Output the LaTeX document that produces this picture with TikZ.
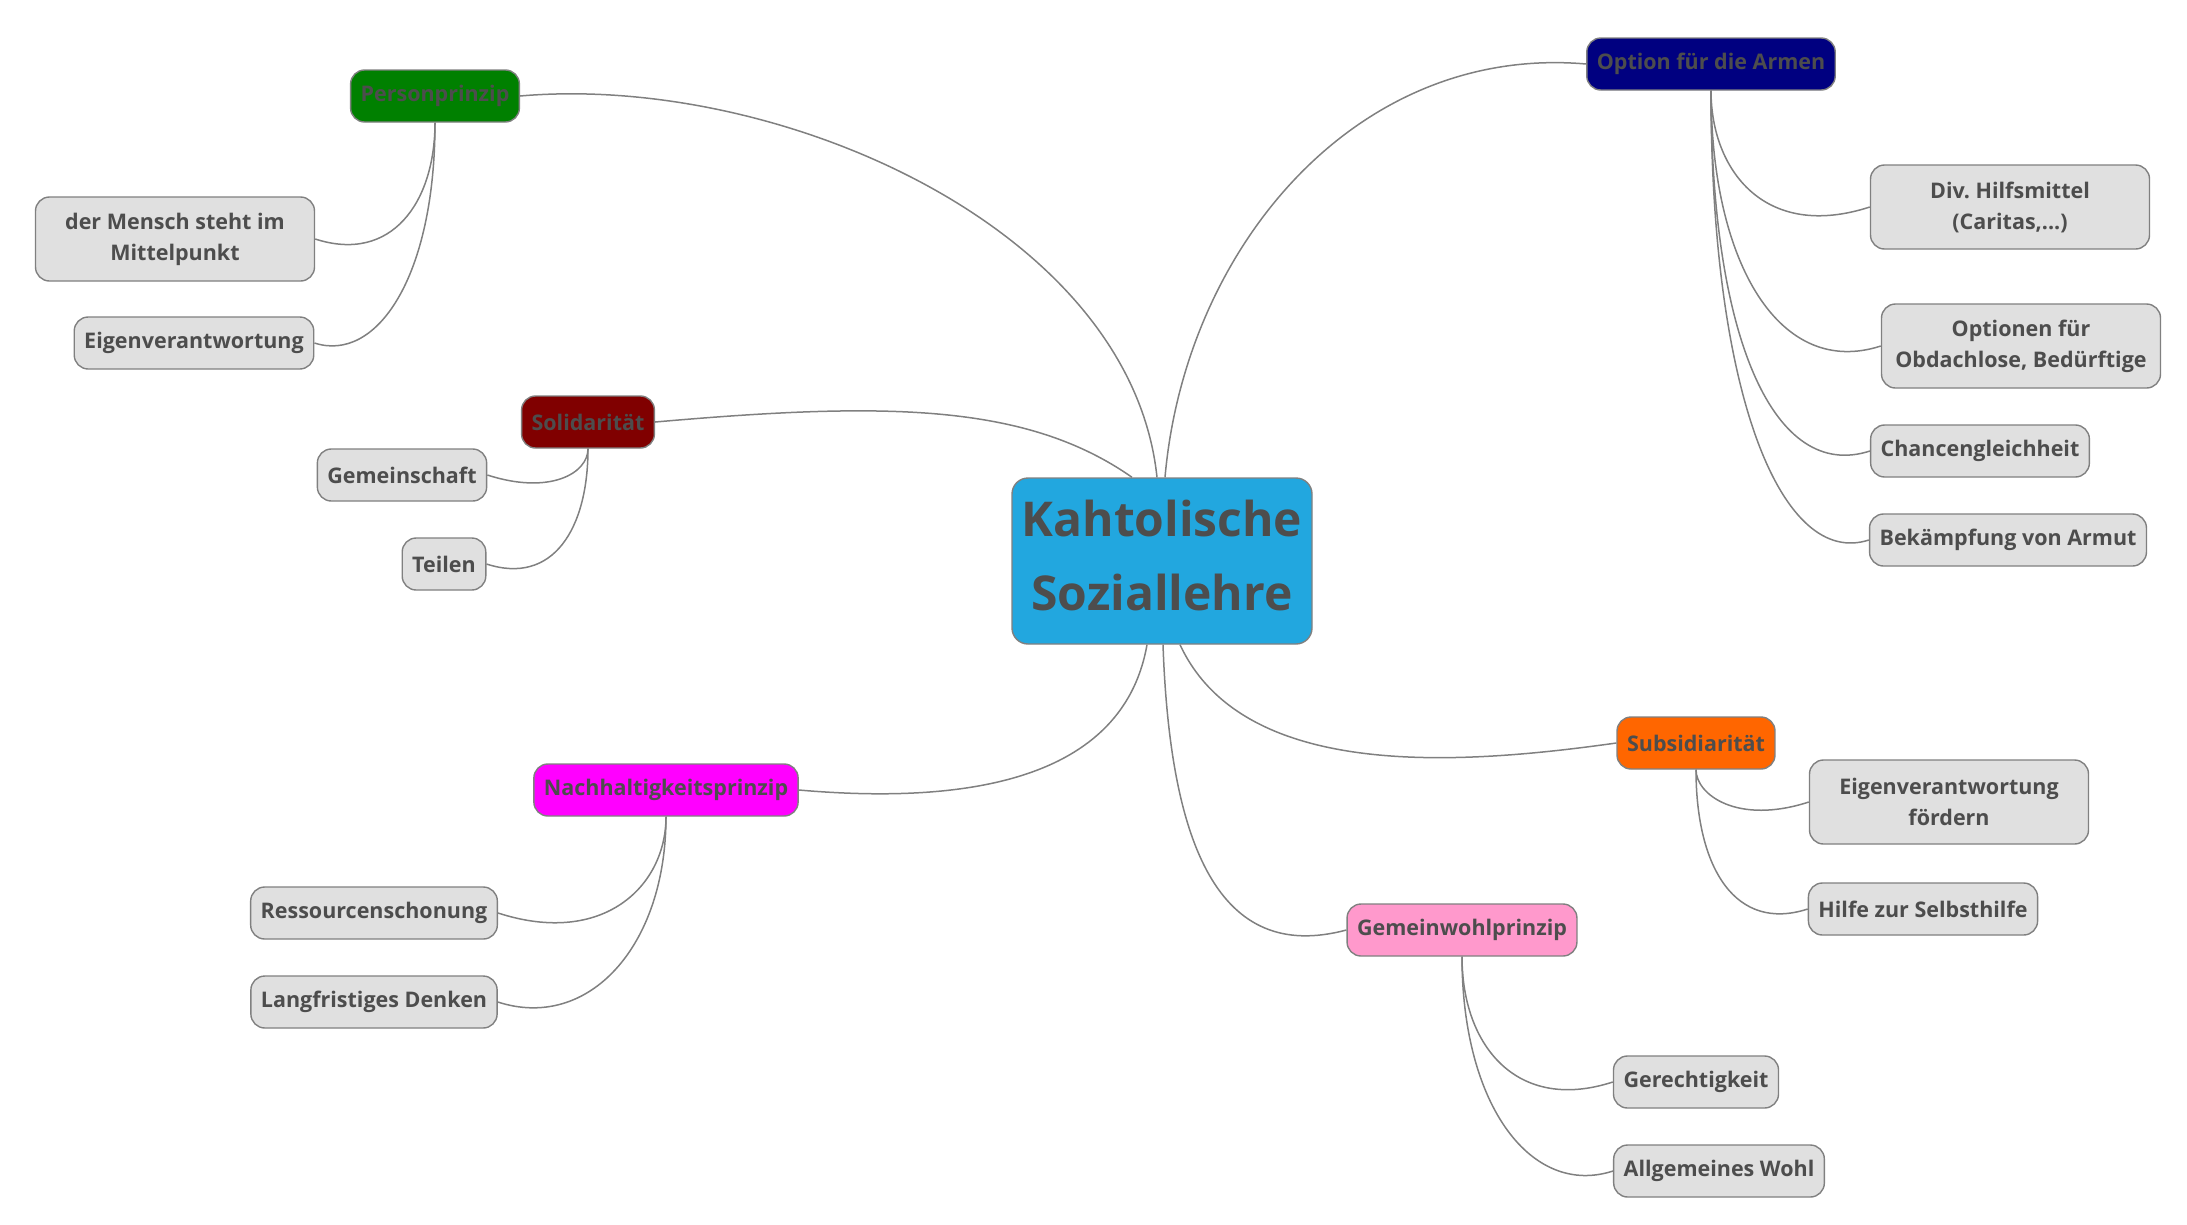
\documentclass[tikz,border=0pt]{standalone}
\usepackage{fontspec}
\setmainfont{Open Sans}
\frenchspacing
\definecolor{edgegray}{HTML}{808080}
\definecolor{textgray}{HTML}{4D4D4D}
\definecolor{leafgray}{HTML}{E0E0E0}
\definecolor{maincyan}{HTML}{22A7DF}
\definecolor{ppgreen}{HTML}{008000}
\definecolor{solred}{HTML}{800000}
\definecolor{nachmagenta}{HTML}{FF00FF}
\definecolor{optnavy}{HTML}{000080}
\definecolor{suborange}{HTML}{FF6600}
\definecolor{gempink}{HTML}{FF99CC}
\begin{document}
\begin{tikzpicture}[x=1pt,y=1pt,
  leafbox/.style={draw=edgegray, line width=1.4pt, rounded corners=14pt, fill=leafgray, text=textgray,
    font=\bfseries\fontsize{21.5}{31}\selectfont, inner xsep=10pt, minimum height=52pt, align=center},
  branchbox/.style={leafbox, fill=#1},
  twolinebox/.style={leafbox, minimum width=279pt, minimum height=84pt},
  linkline/.style={draw=edgegray, line width=1.5pt},
  lefttwig/.style 2 args={out=-90, in=-18, out distance=#1pt, in distance=#2pt},
  righttwig/.style 2 args={out=-90, in=-162, out distance=#1pt, in distance=#2pt}]
\useasboundingbox (0,0) rectangle (2187,-1224);
%CENTER
\node[draw=edgegray, line width=1.4pt, rounded corners=16pt, fill=maincyan, text=textgray,
  font=\bfseries\fontsize{48}{74}\selectfont, minimum width=300pt, minimum height=166pt, align=center]
  (main) at (1162,-561) {Kahtolische\\Soziallehre\rule[-12pt]{0pt}{0pt}};
%LEFT
\node[branchbox=ppgreen] (pp) at (435,-96) {Personprinzip};
\node[twolinebox] (mensch) at (175,-239) {der Mensch steht im\\Mittelpunkt};
\node[leafbox] (eigen) at (194,-343) {Eigenverantwortung};
\node[branchbox=solred] (sol) at (588,-422) {Solidarität};
\node[leafbox] (gemsch) at (402,-475) {Gemeinschaft};
\node[leafbox] (teilen) at (444,-564) {Teilen};
\node[branchbox=nachmagenta] (nach) at (666,-790) {Nachhaltigkeitsprinzip};
\node[leafbox] (ress) at (374,-913) {Ressourcenschonung};
\node[leafbox] (lang) at (374,-1002) {Langfristiges Denken};
%RIGHT
\node[branchbox=optnavy] (opt) at (1711,-64) {Option für die Armen};
\node[twolinebox] (hilfsm) at (2010,-207) {Div. Hilfsmittel\\(Caritas,...)};
\node[twolinebox] (obdach) at (2021,-346) {Optionen für\\Obdachlose, Bedürftige};
\node[leafbox] (chancen) at (1980,-451) {Chancengleichheit};
\node[leafbox] (armut) at (2008,-540) {Bekämpfung von Armut};
\node[branchbox=suborange] (sub) at (1696,-743) {Subsidiarität};
\node[twolinebox] (foerdern) at (1949,-802) {Eigenverantwortung\\fördern};
\node[leafbox] (selbst) at (1923,-909) {Hilfe zur Selbsthilfe};
\node[branchbox=gempink] (gem) at (1462,-930) {Gemeinwohlprinzip};
\node[leafbox] (gerecht) at (1696,-1082) {Gerechtigkeit};
\node[leafbox] (wohl) at (1719,-1171) {Allgemeines Wohl};
%MAIN BRANCHES
\draw[linkline] ([xshift=-5pt]main.north) to[out=96,in=5,out distance=250pt,in distance=260pt] (pp.east);
\draw[linkline] ([xshift=3pt]main.north) to[out=85,in=175] (opt.west);
\draw[linkline] ([xshift=-30pt]main.north) to[out=145,in=5,out distance=130pt,in distance=230pt] (sol.east);
\draw[linkline] ([xshift=-15pt]main.south) to[out=-100,in=-5] (nach.east);
\draw[linkline] ([xshift=18pt]main.south) to[out=-65,in=-172,out distance=150pt,in distance=160pt] (sub.west);
\draw[linkline] ([xshift=1pt]main.south) to[out=-88,in=-165,out distance=200pt] (gem.west);
%TWIGS
\draw[linkline] (pp.south) to[lefttwig={80}{80}] (mensch.east);
\draw[linkline] (pp.south) to[lefttwig={155}{65}] (eigen.east);
\draw[linkline] (sol.south) to[lefttwig={25}{65}] (gemsch.east);
\draw[linkline] (sol.south) to[lefttwig={80}{70}] (teilen.east);
\draw[linkline] (nach.south) to[lefttwig={70}{110}] (ress.east);
\draw[linkline] (nach.south) to[lefttwig={130}{95}] (lang.east);
\draw[linkline] (opt.south) to[righttwig={80}{110}] (hilfsm.west);
\draw[linkline] (opt.south) to[righttwig={175}{105}] (obdach.west);
\draw[linkline] (opt.south) to[righttwig={250}{100}] (chancen.west);
\draw[linkline] (opt.south) to[righttwig={310}{90}] (armut.west);
\draw[linkline] (sub.south) to[righttwig={25}{75}] (foerdern.west);
\draw[linkline] (sub.south) to[righttwig={100}{75}] (selbst.west);
\draw[linkline] (gem.south) to[righttwig={90}{100}] (gerecht.west);
\draw[linkline] (gem.south) to[righttwig={150}{85}] (wohl.west);
\end{tikzpicture}
\end{document}
